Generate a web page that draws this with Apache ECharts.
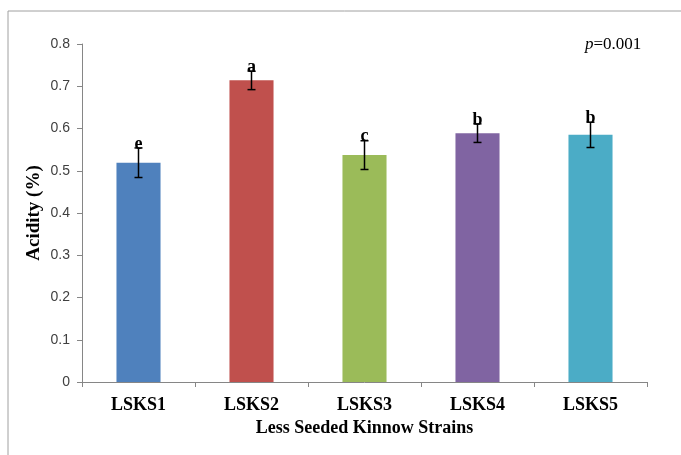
<!DOCTYPE html>
<html>
<head>
<meta charset="utf-8">
<script src="https://cdn.jsdelivr.net/npm/echarts@6/dist/echarts.min.js"></script>
<style>
  html, body { margin: 0; padding: 0; background: #fff; }
  #chart { width: 681px; height: 455px; }
</style>
</head>
<body>
<div id="chart"></div>
<script>
// Acidity of less seeded Kinnow strains, mean ± error with significance letters
var strains = ['LSKS1', 'LSKS2', 'LSKS3', 'LSKS4', 'LSKS5'];
var acidity = [0.519, 0.714, 0.537, 0.589, 0.585];
var errors = [0.035, 0.022, 0.034, 0.022, 0.030];
var letters = ['e', 'a', 'c', 'b', 'b'];
var barColors = ['#4F81BD', '#C0504D', '#9BBB59', '#8064A2', '#4BACC6'];
var yTicks = [0, 0.1, 0.2, 0.3, 0.4, 0.5, 0.6, 0.7, 0.8];

var serif = '"Liberation Serif", "Times New Roman", serif';

var chart = echarts.init(document.getElementById('chart'));

var errData = strains.map(function (s, i) {
  return [i, acidity[i], errors[i], letters[i]];
});

chart.setOption({
  animation: false,
  backgroundColor: '#ffffff',
  grid: { left: 82, right: 34, top: 44, bottom: 73 },
  xAxis: {
    type: 'category',
    data: strains,
    name: 'Less Seeded Kinnow Strains',
    nameLocation: 'middle',
    nameGap: 35,
    nameTextStyle: { fontFamily: serif, fontWeight: 'bold', fontSize: 18, color: '#000' },
    axisLine: { lineStyle: { color: '#868686', width: 1 } },
    axisTick: { show: true, length: 5, alignWithLabel: false, lineStyle: { color: '#868686' } },
    axisLabel: { fontFamily: serif, fontWeight: 'bold', fontSize: 18, color: '#000', margin: 14 }
  },
  yAxis: {
    type: 'value',
    min: yTicks[0],
    max: yTicks[yTicks.length - 1],
    interval: 0.1,
    name: 'Acidity (%)',
    nameLocation: 'middle',
    nameGap: 38,
    nameMoveOverlap: false,
    nameRotate: 90,
    nameTextStyle: { fontFamily: serif, fontWeight: 'bold', fontSize: 19, color: '#000' },
    axisLine: { show: true, lineStyle: { color: '#868686', width: 1 } },
    axisTick: { show: true, length: 5, lineStyle: { color: '#868686' } },
    splitLine: { show: false },
    axisLabel: {
      fontFamily: '"Liberation Sans", Arial, sans-serif',
      fontSize: 14,
      color: '#404040',
      margin: 12,
      formatter: function (v) { return String(Math.round(v * 10) / 10); }
    }
  },
  series: [
    {
      type: 'bar',
      barWidth: '39%',
      data: acidity.map(function (v, i) {
        return { value: v, itemStyle: { color: barColors[i] } };
      })
    },
    {
      type: 'custom',
      data: errData,
      z: 10,
      renderItem: function (params, api) {
        var i = api.value(0);
        var mean = api.value(1);
        var e = api.value(2);
        var hi = api.coord([i, mean + e]);
        var lo = api.coord([i, mean - e]);
        var cap = 4;
        var style = { stroke: '#000', lineWidth: 1.5 };
        return {
          type: 'group',
          children: [
            { type: 'line', shape: { x1: hi[0], y1: hi[1], x2: lo[0], y2: lo[1] }, style: style },
            { type: 'line', shape: { x1: hi[0] - cap, y1: hi[1], x2: hi[0] + cap, y2: hi[1] }, style: style },
            { type: 'line', shape: { x1: lo[0] - cap, y1: lo[1], x2: lo[0] + cap, y2: lo[1] }, style: style },
            {
              type: 'text',
              style: {
                text: letters[params.dataIndex],
                x: hi[0],
                y: hi[1] + 5,
                align: 'center',
                verticalAlign: 'bottom',
                fontFamily: serif,
                fontWeight: 'bold',
                fontSize: 18,
                fill: '#000'
              }
            }
          ]
        };
      }
    }
  ],
  graphic: [
    // outer frame: left and top edges only
    { type: 'line', shape: { x1: 8, y1: 11, x2: 681, y2: 11 }, style: { stroke: '#a0a0a0', lineWidth: 1 } },
    { type: 'line', shape: { x1: 8, y1: 11, x2: 8, y2: 455 }, style: { stroke: '#a0a0a0', lineWidth: 1 } },
    {
      type: 'text',
      left: 585,
      top: 36,
      style: {
        rich: {
          i: { fontFamily: serif, fontStyle: 'italic', fontSize: 17, fill: '#000' },
          n: { fontFamily: serif, fontSize: 17, fill: '#000' }
        },
        text: '{i|p}{n|=0.001}'
      }
    }
  ]
});
</script>
</body>
</html>
